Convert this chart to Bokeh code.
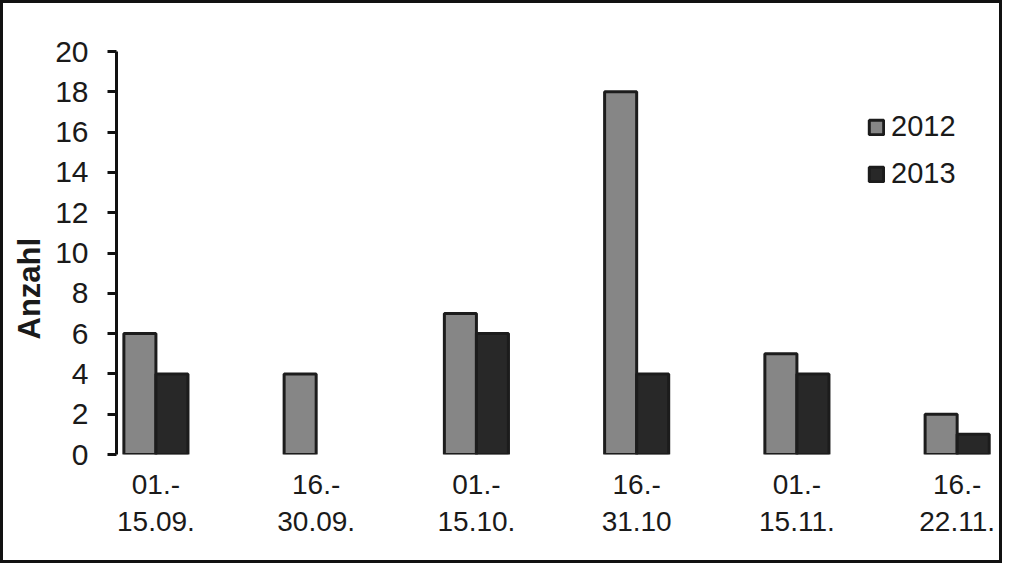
from bokeh.plotting import figure
from bokeh.models import ColumnDataSource, FixedTicker, Title, Legend, LegendItem
from bokeh.embed import file_html
from bokeh.resources import INLINE

categories = ["01.-\n15.09.", "16.-\n30.09.", "01.-\n15.10.", "16.-\n31.10", "01.-\n15.11.", "16.-\n22.11."]
series_2012 = [6, 4, 7, 18, 5, 2]
series_2013 = [4, 0, 6, 4, 4, 1]
y_ticks = [0, 2, 4, 6, 8, 10, 12, 14, 16, 18, 20]

FONT = "Liberation Sans"
TXT = "#1a1a1a"

p = figure(width=1002, height=563, output_backend="svg", toolbar_location=None,
           x_range=(-0.246, 5.233), y_range=(0, 20),
           min_border_left=111, min_border_right=11, min_border_top=48, min_border_bottom=112)
p.styles = {"border": "3px solid #111111"}
p.outline_line_color = None
p.xgrid.visible = False
p.ygrid.visible = False
p.background_fill_color = "white"
p.border_fill_color = "white"

xs = list(range(len(categories)))

def make_src(vals, off):
    xx = [x + off for x, v in zip(xs, vals) if v > 0]
    vv = [v for v in vals if v > 0]
    return ColumnDataSource(dict(x=xx, top=vv))

r1 = p.vbar(x="x", top="top", width=0.2, bottom=0, source=make_src(series_2012, -0.1),
            fill_color="#868686", line_color="#1c1c1c", line_width=3)
r2 = p.vbar(x="x", top="top", width=0.2, bottom=0, source=make_src(series_2013, 0.1),
            fill_color="#282828", line_color="#1c1c1c", line_width=3)

# y axis
ya = p.yaxis[0]
ya.ticker = FixedTicker(ticks=y_ticks)
ya.minor_tick_line_color = None
ya.major_tick_in = 0
ya.major_tick_out = 9
ya.major_tick_line_width = 3
ya.major_tick_line_color = "#111111"
ya.axis_line_width = 3
ya.axis_line_color = "#111111"
ya.major_label_text_font = FONT
ya.major_label_text_font_size = "30px"
ya.major_label_text_color = TXT
ya.major_label_standoff = 19

# x axis
xa = p.xaxis[0]
xa.ticker = FixedTicker(ticks=xs)
xa.major_label_overrides = {i: c for i, c in enumerate(categories)}
xa.axis_line_color = None
xa.major_tick_line_color = None
xa.minor_tick_line_color = None
xa.major_label_text_font = FONT
xa.major_label_text_font_size = "28px"
xa.major_label_text_color = TXT
xa.major_label_standoff = 8

ylab = Title(text="Anzahl", align="left", offset=115, standoff=12,
             text_font=FONT, text_font_size="31px", text_font_style="bold",
             text_color=TXT)
p.add_layout(ylab, "left")

legend = Legend(items=[LegendItem(label="2012", renderers=[r1]),
                       LegendItem(label="2013", renderers=[r2])],
                location=(751, 264), border_line_color=None, background_fill_alpha=0,
                padding=0, margin=0, spacing=14, glyph_width=18, glyph_height=18,
                label_height=30, label_standoff=6,
                label_text_font=FONT, label_text_font_size="29px", label_text_color=TXT)
p.add_layout(legend)

open("out.html", "w").write(file_html(p, INLINE))
